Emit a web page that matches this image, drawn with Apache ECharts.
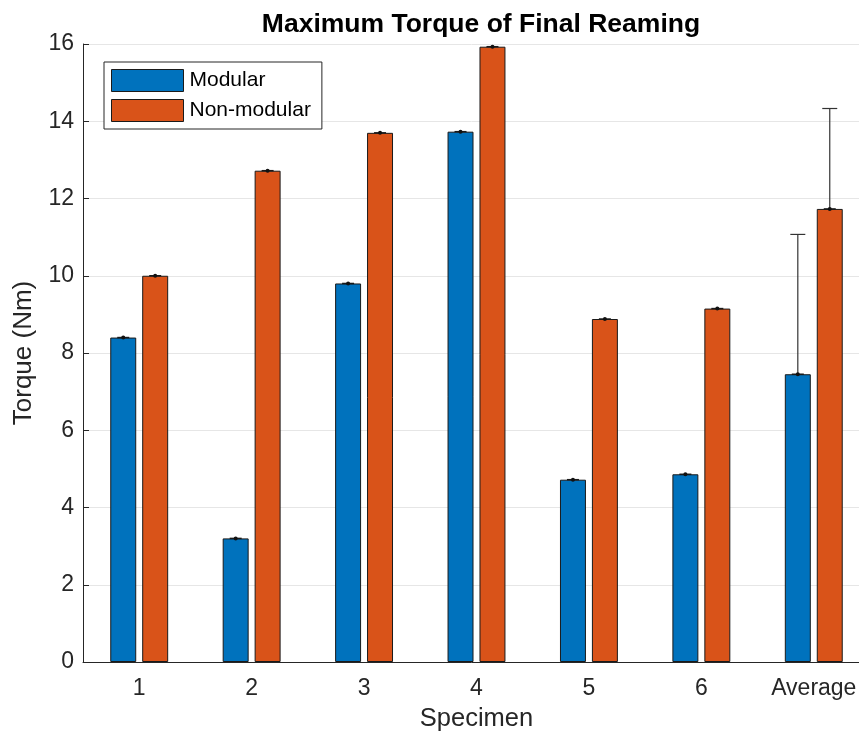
<!DOCTYPE html>
<html>
<head>
<meta charset="utf-8">
<script src="https://cdn.jsdelivr.net/npm/echarts@6/dist/echarts.min.js"></script>
<style>
html,body{margin:0;padding:0;background:#fff;overflow:hidden;}
#c{width:859px;height:738px;}
</style>
</head>
<body>
<div id="c"></div>
<script>
const categories = ['1', '2', '3', '4', '5', '6', 'Average'];
const modular = [8.40, 3.20, 9.80, 13.73, 4.72, 4.86, 7.45];
const nonModular = [10.00, 12.72, 13.70, 15.93, 8.88, 9.15, 11.73];
const modularErr = [0, 0, 0, 0, 0, 0, 3.62];
const nonModularErr = [0, 0, 0, 0, 0, 0, 2.60];
const yTicks = [0, 2, 4, 6, 8, 10, 12, 14, 16];

const BAR_PCT = 0.231;
const GAP = 0.23;
const offsetFrac = BAR_PCT * (1 + GAP) / 2;
const FONT = 'Arial, "Liberation Sans", Helvetica, sans-serif';

function errSeries(name, vals, errs, sign) {
  return {
    type: 'custom',
    name: name + ' err',
    z: 10,
    silent: true,
    data: vals.map((v, i) => [i, v, errs[i]]),
    encode: { x: 0, y: [1] },
    renderItem: function (params, api) {
      const idx = api.value(0), v = api.value(1), e = api.value(2);
      const bw = api.size([1, 0])[0];
      const base = api.coord([idx, v]);
      const top = api.coord([idx, v + e]);
      const x = base[0] + sign * offsetFrac * bw;
      const half = 7.5;
      const st = { stroke: '#333', lineWidth: 1.2 };
      const children = [];
      if (e > 0) {
        children.push({ type: 'line', shape: { x1: x, y1: base[1], x2: x, y2: top[1] }, style: st });
        children.push({ type: 'line', shape: { x1: x - half, y1: top[1], x2: x + half, y2: top[1] }, style: st });
      }
      children.push({ type: 'line', shape: { x1: x - 6, y1: base[1], x2: x + 6, y2: base[1] }, style: { stroke: '#1a1a1a', lineWidth: 1.5 } });
      children.push({ type: 'circle', shape: { cx: x, cy: base[1], r: 2 }, style: { fill: '#111' } });
      return { type: 'group', children: children };
    }
  };
}

const chart = echarts.init(document.getElementById('c'));
chart.setOption({
  animation: false,
  backgroundColor: '#fff',
  title: {
    text: 'Maximum Torque of Final Reaming',
    left: 476, textAlign: 'center', top: 6,
    textStyle: { fontFamily: FONT, fontSize: 26.5, fontWeight: 'bold', color: '#000' }
  },
  legend: {
    data: ['Modular', 'Non-modular'],
    orient: 'vertical',
    icon: 'rect',
    left: 104, top: 62,
    itemWidth: 72, itemHeight: 22, itemGap: 7,
    padding: [7, 11, 7, 7],
    backgroundColor: '#fff',
    borderColor: '#262626', borderWidth: 1,
    itemStyle: { borderColor: '#1a1a1a', borderWidth: 1 },
    textStyle: { fontFamily: FONT, fontSize: 21, color: '#000', padding: [0, 0, 0, 1] }
  },
  grid: { left: 83, width: 787, top: 44, bottom: 76, containLabel: false, outerBoundsMode: 'none' },
  xAxis: {
    type: 'category',
    data: categories,
    name: 'Specimen',
    nameLocation: 'middle',
    nameGap: 44,
    nameTextStyle: { fontFamily: FONT, fontSize: 25.5, color: '#262626' },
    axisLine: { lineStyle: { color: '#262626', width: 1 } },
    axisTick: { inside: true, alignWithLabel: true, length: 6, lineStyle: { color: '#262626' } },
    axisLabel: { fontFamily: FONT, fontSize: 23, color: '#262626', margin: 15 },
    splitLine: { show: false }
  },
  yAxis: {
    type: 'value',
    min: yTicks[0], max: yTicks[yTicks.length - 1], interval: 2,
    name: 'Torque (Nm)',
    nameLocation: 'middle',
    nameGap: 46,
    nameRotate: 90,
    nameTextStyle: { fontFamily: FONT, fontSize: 26, color: '#262626' },
    axisLine: { show: true, lineStyle: { color: '#262626', width: 1 } },
    axisTick: { show: true, inside: true, length: 6, lineStyle: { color: '#262626' } },
    axisLabel: { fontFamily: FONT, fontSize: 23, color: '#262626', margin: 9 },
    splitLine: { show: true, lineStyle: { color: '#e6e6e6', width: 1 } }
  },
  series: [
    {
      name: 'Modular', type: 'bar', data: modular,
      barWidth: (BAR_PCT * 100) + '%', barGap: (GAP * 100) + '%',
      itemStyle: { color: '#0072BD', borderColor: '#1a1a1a', borderWidth: 1 }
    },
    {
      name: 'Non-modular', type: 'bar', data: nonModular,
      barWidth: (BAR_PCT * 100) + '%', barGap: (GAP * 100) + '%',
      itemStyle: { color: '#D95319', borderColor: '#1a1a1a', borderWidth: 1 }
    },
    errSeries('Modular', modular, modularErr, -1),
    errSeries('Non-modular', nonModular, nonModularErr, 1)
  ]
});
</script>
</body>
</html>
